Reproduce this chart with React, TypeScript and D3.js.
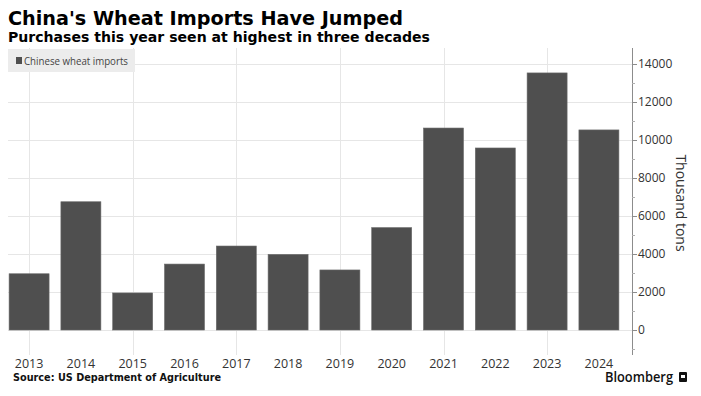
import { useEffect, useRef } from 'react';
import * as d3 from 'd3';

const years = ['2013', '2014', '2015', '2016', '2017', '2018', '2019', '2020', '2021', '2022', '2023', '2024'];
const wheatImports = [2960, 6750, 1950, 3470, 4420, 3980, 3160, 5390, 10630, 9580, 13530, 10530];
const yTicks = [0, 2000, 4000, 6000, 8000, 10000, 12000, 14000];
const gridYears = ['2013', '2015', '2017', '2019', '2021', '2023'];

export default function App() {
  const svgRef = useRef<SVGSVGElement>(null);

  useEffect(() => {
    if (!svgRef.current) return;
    const svg = d3.select(svgRef.current);
    svg.selectAll('*').remove();

    const width = 701;
    const height = 396;
    const plotTop = 48;
    const plotBottom = 355;
    const axisX = 632;
    const tickFont = "'Open Sans', 'DejaVu Sans', sans-serif";
    const boldFont = "'DejaVu Sans', Verdana, sans-serif";

    svg.attr('width', width).attr('height', height);
    svg.append('rect').attr('width', width).attr('height', height).attr('fill', '#fff');

    const x = d3.scaleBand<string>()
      .domain(years)
      .range([2, 626])
      .paddingInner(0.228)
      .paddingOuter(0.137);

    const y = d3.scaleLinear()
      .domain([0, 14000])
      .range([330, 64]);

    // grid
    svg.append('g')
      .selectAll('line')
      .data(yTicks)
      .enter()
      .append('line')
      .attr('x1', 8)
      .attr('x2', axisX)
      .attr('y1', d => Math.round(y(d)) + 0.5)
      .attr('y2', d => Math.round(y(d)) + 0.5)
      .style('stroke', '#e6e6e6')
      .style('stroke-width', 1);

    svg.append('g')
      .selectAll('line')
      .data(gridYears)
      .enter()
      .append('line')
      .attr('x1', d => Math.round((x(d) ?? 0) + x.bandwidth() / 2) + 0.5)
      .attr('x2', d => Math.round((x(d) ?? 0) + x.bandwidth() / 2) + 0.5)
      .attr('y1', plotTop)
      .attr('y2', plotBottom)
      .style('stroke', '#e6e6e6')
      .style('stroke-width', 1);

    // bars
    svg.append('g')
      .selectAll('rect')
      .data(wheatImports)
      .enter()
      .append('rect')
      .attr('x', (_, i) => x(years[i]) ?? 0)
      .attr('y', d => y(d))
      .attr('width', x.bandwidth())
      .attr('height', d => y(0) - y(d))
      .style('fill', '#4f4f4f')
      .style('stroke', '#6a6a6a')
      .style('stroke-width', 0.6);

    // y axis
    svg.append('line')
      .attr('x1', axisX + 0.5)
      .attr('x2', axisX + 0.5)
      .attr('y1', plotTop)
      .attr('y2', plotBottom)
      .style('stroke', '#8c8c8c');

    const minorTicks = d3.range(-1000, 14001, 1000).filter(v => v % 2000 !== 0);
    svg.append('g')
      .selectAll('line')
      .data(minorTicks)
      .enter()
      .append('line')
      .attr('x1', axisX)
      .attr('x2', axisX + 3)
      .attr('y1', d => Math.round(y(d)) + 0.5)
      .attr('y2', d => Math.round(y(d)) + 0.5)
      .style('stroke', '#b0b0b0');

    const yAxis = svg.append('g');
    yAxis.selectAll('line')
      .data(yTicks)
      .enter()
      .append('line')
      .attr('x1', axisX)
      .attr('x2', axisX + 5)
      .attr('y1', d => Math.round(y(d)) + 0.5)
      .attr('y2', d => Math.round(y(d)) + 0.5)
      .style('stroke', '#8c8c8c');
    yAxis.selectAll('text')
      .data(yTicks)
      .enter()
      .append('text')
      .attr('x', axisX + 6)
      .attr('y', d => y(d))
      .attr('dy', '0.35em')
      .style('font-family', tickFont)
      .style('font-size', '12px')
      .style('fill', '#333')
      .text(d => String(d));

    svg.append('text')
      .attr('transform', `translate(676,203) rotate(90)`)
      .attr('text-anchor', 'middle')
      .style('font-family', tickFont)
      .style('font-size', '14px')
      .style('fill', '#333')
      .text('Thousand tons');

    // x labels
    svg.append('g')
      .selectAll('text')
      .data(years)
      .enter()
      .append('text')
      .attr('x', d => (x(d) ?? 0) + x.bandwidth() / 2)
      .attr('y', 368)
      .attr('text-anchor', 'middle')
      .style('font-family', tickFont)
      .style('font-size', '12.5px')
      .style('fill', '#333')
      .text(d => d);

    // legend
    svg.append('rect')
      .attr('x', 8)
      .attr('y', 49)
      .attr('width', 127)
      .attr('height', 23)
      .style('fill', '#ececec');
    svg.append('rect')
      .attr('x', 16)
      .attr('y', 57)
      .attr('width', 6)
      .attr('height', 7)
      .style('fill', '#4f4f4f');
    svg.append('text')
      .attr('x', 24)
      .attr('y', 65)
      .attr('textLength', 104)
      .attr('lengthAdjust', 'spacingAndGlyphs')
      .style('font-family', tickFont)
      .style('font-size', '11px')
      .style('fill', '#444')
      .text('Chinese wheat imports');

    // titles
    svg.append('text')
      .attr('x', 8)
      .attr('y', 25)
      .attr('textLength', 395)
      .attr('lengthAdjust', 'spacingAndGlyphs')
      .style('font-family', boldFont)
      .style('font-weight', 'bold')
      .style('font-size', '20px')
      .style('fill', '#000')
      .text("China's Wheat Imports Have Jumped");

    svg.append('text')
      .attr('x', 8)
      .attr('y', 42)
      .attr('textLength', 422)
      .attr('lengthAdjust', 'spacingAndGlyphs')
      .style('font-family', boldFont)
      .style('font-weight', 'bold')
      .style('font-size', '13.5px')
      .style('fill', '#000')
      .text('Purchases this year seen at highest in three decades');

    // footer
    svg.append('text')
      .attr('x', 13)
      .attr('y', 381)
      .attr('textLength', 208)
      .attr('lengthAdjust', 'spacingAndGlyphs')
      .style('font-family', boldFont)
      .style('font-weight', 'bold')
      .style('font-size', '11px')
      .style('fill', '#111')
      .text('Source: US Department of Agriculture');

    svg.append('text')
      .attr('x', 605)
      .attr('y', 382)
      .attr('textLength', 68)
      .attr('lengthAdjust', 'spacingAndGlyphs')
      .style('font-family', tickFont)
      .style('font-weight', '600')
      .style('font-size', '14px')
      .style('fill', '#111')
      .text('Bloomberg');

    svg.append('rect')
      .attr('x', 679)
      .attr('y', 372)
      .attr('width', 8)
      .attr('height', 10)
      .attr('rx', 1)
      .style('fill', '#111');
    svg.append('rect')
      .attr('x', 681)
      .attr('y', 375)
      .attr('width', 4)
      .attr('height', 3)
      .style('fill', '#fff');
  }, []);

  return (
    <div style={{ position: 'absolute', left: 0, top: 0 }}>
      <svg ref={svgRef} style={{ display: 'block' }} />
    </div>
  );
}
